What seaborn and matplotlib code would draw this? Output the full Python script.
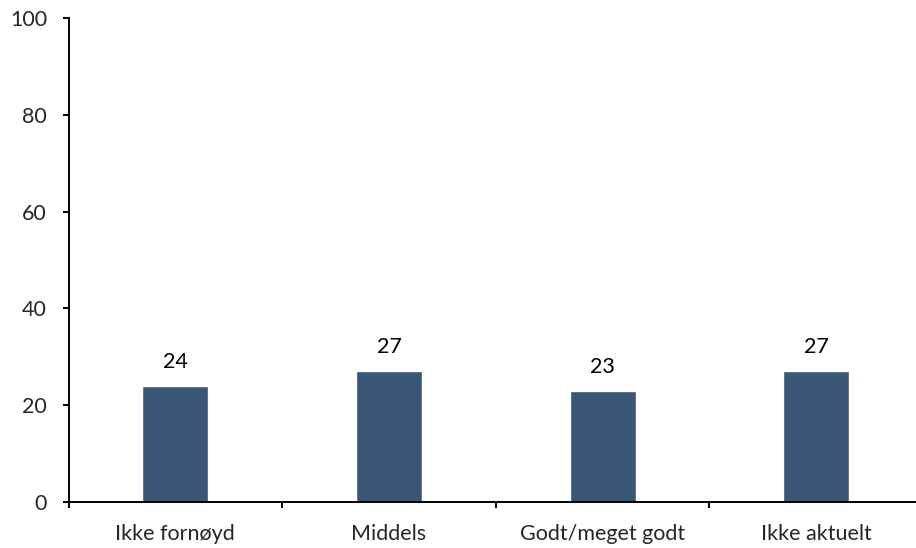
import numpy as np
import pandas as pd
import seaborn as sns
import matplotlib
matplotlib.use("Agg")
import matplotlib.pyplot as plt

# --- data ---
categories = ["Ikke fornøyd", "Middels", "Godt/meget godt", "Ikke aktuelt"]
values = [24, 27, 23, 27]
y_ticks = [0, 20, 40, 60, 80, 100]

bar_color = "#3a5675"

sns.set_style("white")
plt.rcParams['font.family'] = ['Lato', 'DejaVu Sans']
fs = 15.5

df = pd.DataFrame({"cat": categories, "val": values})

fig = plt.figure(figsize=(9.16, 5.48), dpi=100)
ax = fig.add_axes([0.0748, 0.084, 0.933, 0.883])

sns.barplot(data=df, x="cat", y="val", color=bar_color, width=0.31,
            saturation=1, ax=ax)

ax.set_xlim(-0.5, len(categories) - 0.5)
ax.set_ylim(0, 100)
ax.set_yticks(y_ticks)
ax.set_xlabel("")
ax.set_ylabel("")

# value labels over bars
for i, v in enumerate(values):
    ax.annotate(f"{v}", (i, v), xytext=(0, 10), textcoords="offset points",
                ha="center", va="bottom", fontsize=fs, color="black")

# spines
for s in ["top", "right"]:
    ax.spines[s].set_visible(False)
for s in ["left", "bottom"]:
    ax.spines[s].set_color("black")
    ax.spines[s].set_linewidth(1.4)

# ticks: y outward on left, x ticks at category boundaries
ax.tick_params(axis="y", direction="out", length=4.5, width=1.4, color="black",
               labelsize=fs, pad=11, left=True)
ax.tick_params(axis="x", which="major", length=0, labelsize=fs, pad=16)
ax.set_xticks(np.arange(-0.5, len(categories), 1.0), minor=True)
ax.tick_params(axis="x", which="minor", direction="out", length=4.5, width=1.4,
               color="black", bottom=True)

fig.savefig("out.png", dpi=100)
